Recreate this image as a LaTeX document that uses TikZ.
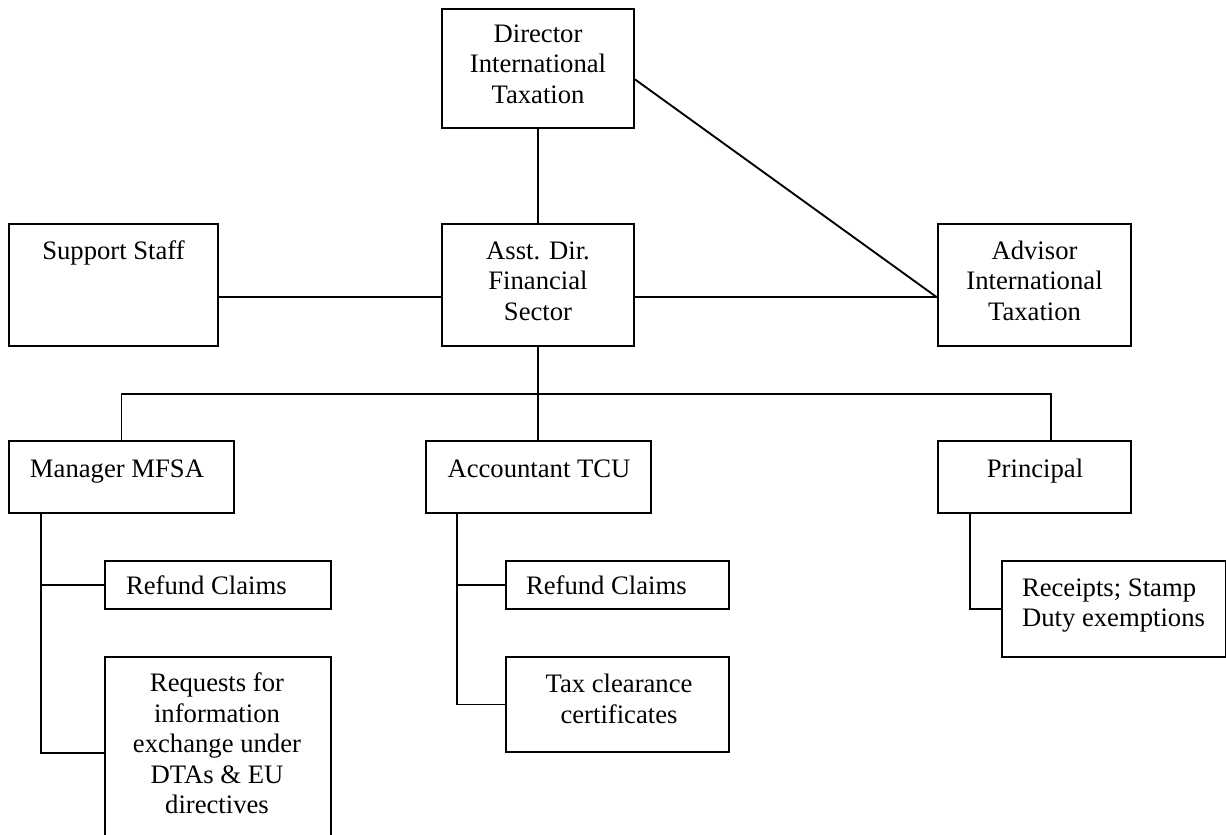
\documentclass[tikz,border=0pt]{standalone}
\usepackage{fontspec}
\setmainfont{Liberation Serif}
\usetikzlibrary{calc,fit}
% stacked lines whose baseline is the baseline of the first line
\newcommand\boxlines[2][c]{\begin{tabular}[t]{@{}#1@{}}#2\end{tabular}}
\begin{document}
\begin{tikzpicture}[x=0.75pt,y=-0.75pt,line width=1.4pt,
  orgbox/.style={draw,rectangle,inner sep=0pt,line width=1.4pt},
  boxtext/.style={font=\fontsize{20}{22.9}\selectfont,inner sep=0pt,anchor=base},
  boxtextl/.style={boxtext,anchor=base west}]
\clip (0,0) rectangle (1226,834);

% boxes
\node[orgbox,fit={(442,9) (634,128)}] (dir) {};
\node[orgbox,fit={(9,224) (218,346)}] (sup) {};
\node[orgbox,fit={(442,224) (634,346)}] (asst) {};
\node[orgbox,fit={(938,224) (1131,346)}] (adv) {};
\node[orgbox,fit={(9,441) (234,513)}] (mgr) {};
\node[orgbox,fit={(426,441) (651,513)}] (acc) {};
\node[orgbox,fit={(938,441) (1131,513)}] (pri) {};
\node[orgbox,fit={(105,561) (331,609)}] (rc1) {};
\node[orgbox,fit={(105,657) (331,849)}] (req) {};
\node[orgbox,fit={(506,561) (729,609)}] (rc2) {};
\node[orgbox,fit={(506,657) (729,752)}] (tax) {};
\node[orgbox,fit={(1002,561) (1225.5,657)}] (rcp) {};

% box texts
\node[boxtext] (tdir) at ($(dir.north)+(0,34)$) {\boxlines{Director\\International\\Taxation}};
\node[boxtext] (tsup) at ($(sup.north)+(0,36.5)$) {Support Staff};
\node[boxtext] (tasst) at ($(asst.north)+(0,36)$) {\boxlines{Asst. Dir.\\Financial\\Sector}};
\node[boxtext] (tadv) at ($(adv.north)+(0,36)$) {\boxlines{Advisor\\International\\Taxation}};
\node[boxtext] (tmgr) at ($(mgr.north)+(-4.5,37)$) {Manager MFSA};
\node[boxtext] (tacc) at ($(acc.north)+(0.5,37)$) {Accountant TCU};
\node[boxtext] (tpri) at ($(pri.north)+(0.5,37)$) {Principal};
\node[boxtextl] (trc1) at ($(rc1.north west)+(21,34)$) {Refund Claims};
\node[boxtextl] (trc2) at ($(rc2.north west)+(20,34)$) {Refund Claims};
\node[boxtextl] (trcp) at ($(rcp.north west)+(20,36)$) {\boxlines[l]{Receipts; Stamp\\Duty exemptions}};
\node[boxtext] (ttax) at ($(tax.north)+(1.5,36.5)$) {\boxlines{Tax clearance\\certificates}};
\node[boxtext] (treq) at ($(req.north)+(-1,35.5)$) {\boxlines{Requests for\\information\\exchange under\\DTAs \& EU\\directives}};

% attachment points
\coordinate (dirout) at ($(dir.north east)!0.59!(dir.south east)$);
\coordinate (advin) at ($(adv.north west)!0.6!(adv.south west)$);
\coordinate (supout) at ($(sup.north east)!0.6!(sup.south east)$);
\coordinate (asstl) at ($(asst.north west)!0.6!(asst.south west)$);
\coordinate (asstr) at ($(asst.north east)!0.6!(asst.south east)$);
\coordinate (bus) at ($(asst.south)+(0,47)$);
\coordinate (pritop) at ($(pri.north west)!0.585!(pri.north east)$);
\coordinate (mgrdrop) at ($(mgr.south west)!0.147!(mgr.south east)$);
\coordinate (accdrop) at ($(acc.south west)!0.142!(acc.south east)$);
\coordinate (pridrop) at ($(pri.south west)!0.171!(pri.south east)$);

% connectors
\draw (dir.south) -- (asst.north);
\draw (dirout) -- (advin);
\draw (supout) -- (asstl);
\draw (asstr) -- (advin);
\draw (asst.south) -- (asst.south |- acc.north);
\draw (mgr.north) |- (bus) -| (pritop);
\draw (mgrdrop) |- (rc1.west);
\draw (mgrdrop) |- (req.west);
\draw (accdrop) |- (rc2.west);
\draw (accdrop) |- (tax.west);
\draw (pridrop) |- (rcp.west);
\end{tikzpicture}
\end{document}
